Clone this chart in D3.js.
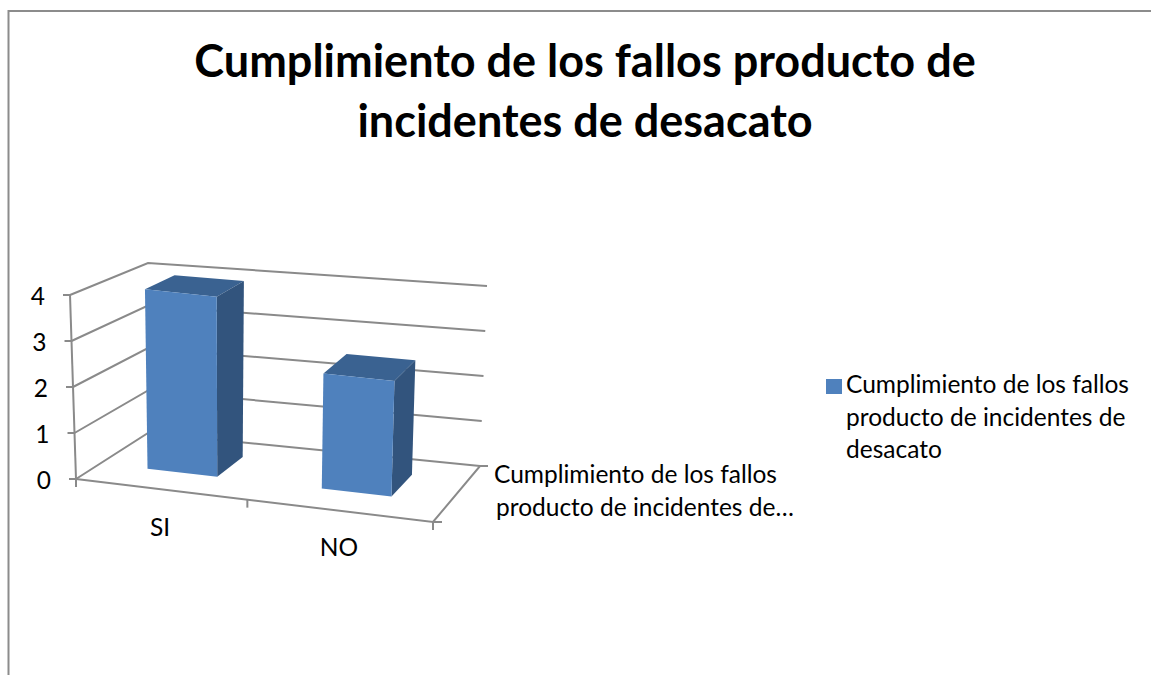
<!DOCTYPE html>
<html>
<head>
<meta charset="utf-8">
<script src="https://cdn.jsdelivr.net/npm/d3@7/dist/d3.min.js"></script>
<style>
html,body{margin:0;padding:0;background:#fff}
svg{display:block}
text{font-family:Lato,"Open Sans",sans-serif;fill:#000}
</style>
</head>
<body>
<svg id="chart" width="1151" height="675"></svg>
<script>
const titleLines = ["Cumplimiento de los fallos producto de", "incidentes de desacato"];
const categories = ["SI", "NO"];
const seriesValues = [4, 2.55];
const valueTicks = [0, 1, 2, 3, 4];
const depthLabelLines = ["Cumplimiento de los fallos", "producto de incidentes de…"];
const legendLines = ["Cumplimiento de los fallos", "producto de incidentes de", "desacato"];

const svg = d3.select("#chart");
const gridColor = "#8a8a8a";

// 3D box corners on screen: f/b = front/back, l/r = left/right, 0/1 = floor/top
const box = {
  fl0: [76, 479], fl1: [70, 295], fr0: [433, 522], fr1: [439, 340],
  bl0: [148, 433], bl1: [148, 263], br0: [480, 466], br1: [487, 286]
};
const mix = (a, b, t) => [a[0] + (b[0] - a[0]) * t, a[1] + (b[1] - a[1]) * t];
function project(u, d, v) {
  const f0 = mix(box.fl0, box.fr0, u), f1 = mix(box.fl1, box.fr1, u);
  const b0 = mix(box.bl0, box.br0, u), b1 = mix(box.bl1, box.br1, u);
  return mix(mix(f0, b0, d), mix(f1, b1, d), v);
}

const x = d3.scaleBand().domain(categories).range([-0.015, 0.985]).paddingInner(0.6).paddingOuter(0.3);
const y = d3.scaleLinear().domain([0, 4]).range([0, 1]);
const barDepth = [0.34, 0.74];
const line = d3.line();

// frame
svg.append("path").attr("d", line([[8.5, 675], [8.5, 11], [1151, 11]]))
  .attr("fill", "none").attr("stroke", "#8c8c8c").attr("stroke-width", 2);

// title
svg.append("g").selectAll("text").data(titleLines).join("text")
  .attr("x", 585).attr("y", (d, i) => 76.5 + i * 60)
  .attr("text-anchor", "middle").attr("font-size", 45).attr("font-weight", 700)
  .text(d => d);

// walls: gridlines
const grid = svg.append("g").attr("fill", "none").attr("stroke", gridColor).attr("stroke-width", 2);
valueTicks.forEach(t => {
  grid.append("path").attr("d", line([project(0, 0, y(t)), project(0, 1, y(t)), project(1, 1, y(t))]));
  const p = project(0, 0, y(t));
  grid.append("path").attr("d", line([p, [p[0] - 7, p[1]]]));
});
// axes on floor
const floorBackRight = project(1, 1, 0), floorFrontRight = project(1, 0, 0);
grid.append("path").attr("d", line([project(0, 0, y(4)), project(0, 0, y(0))]));
grid.append("path").attr("d", line([project(0, 0, 0), floorFrontRight, floorBackRight, [floorBackRight[0] + 8, floorBackRight[1]]]));
grid.append("path").attr("d", line([floorFrontRight, [floorFrontRight[0] + 9, floorFrontRight[1]]]));
[0, 0.48, 1].forEach(u => {
  const p = project(u, 0, 0);
  grid.append("path").attr("d", line([p, [p[0], p[1] + 8]]));
});

// bars
const bars = svg.append("g").selectAll("g").data(categories).join("g");
bars.each(function (c, i) {
  const g = d3.select(this);
  const u0 = x(c), u1 = x(c) + x.bandwidth();
  const v = y(seriesValues[i]);
  const [d0, d1] = barDepth;
  g.append("path").attr("fill", "#3a6291")
    .attr("d", line([project(u0, d0, v), project(u1, d0, v), project(u1, d1, v), project(u0, d1, v)]) + "Z");
  g.append("path").attr("fill", "#32547d")
    .attr("d", line([project(u1, d0, 0), project(u1, d0, v), project(u1, d1, v), project(u1, d1, 0)]) + "Z");
  g.append("path").attr("fill", "#4f81bd")
    .attr("d", line([project(u0, d0, 0), project(u1, d0, 0), project(u1, d0, v), project(u0, d0, v)]) + "Z");
});

// value labels
svg.append("g").selectAll("text").data(valueTicks).join("text")
  .attr("x", d => project(0, 0, y(d))[0] - 25)
  .attr("y", d => project(0, 0, y(d))[1] + 10)
  .attr("text-anchor", "end").attr("font-size", 24.5)
  .text(d => d);

// category labels
const catLabelPos = { SI: [160, 536], NO: [339, 556] };
svg.append("g").selectAll("text").data(categories).join("text")
  .attr("x", d => catLabelPos[d][0]).attr("y", d => catLabelPos[d][1])
  .attr("text-anchor", "middle").attr("font-size", 24.5)
  .text(d => d);

// depth axis label
svg.append("g").selectAll("text").data(depthLabelLines).join("text")
  .attr("x", (d, i) => 494 + i * 2).attr("y", (d, i) => 483 + i * 33)
  .attr("font-size", 24.5)
  .text(d => d);

// legend
svg.append("rect").attr("x", 826).attr("y", 379).attr("width", 16).attr("height", 15).attr("fill", "#4f81bd");
svg.append("g").selectAll("text").data(legendLines).join("text")
  .attr("x", 846).attr("y", (d, i) => 393 + i * 32.5)
  .attr("font-size", 24.5)
  .text(d => d);
</script>
</body>
</html>
